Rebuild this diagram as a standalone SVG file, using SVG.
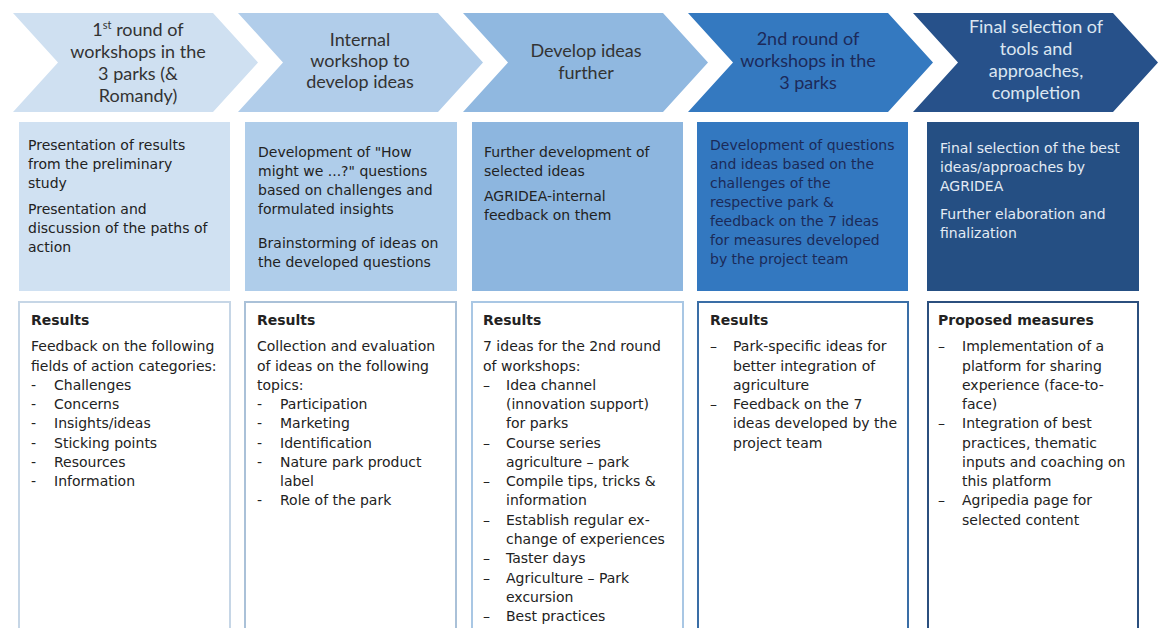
<svg xmlns="http://www.w3.org/2000/svg" width="1160" height="628" viewBox="0 0 1160 628">
<style>
.hd{font-family:Lato,"Open Sans",sans-serif;font-size:18px;text-anchor:middle;fill:#333}
.hd4{fill:#1c2a5a}
.hd5{fill:#dbe6f1}
.bd{font-family:"DejaVu Sans",Verdana,sans-serif;font-size:14px;fill:#222}
.bd4{fill:#1b2a58}
.bd5{fill:#e3ebf4}
.b{font-weight:bold}
.res{fill:#fff;stroke-width:2}
</style>
<rect width="1160" height="628" fill="#fff"/>
<g id="connectors"/>
<!-- chevrons -->
<g id="step1">
<path d="M13,13 H213 L258,62.5 L213,112 H13 L58,62.5 Z" fill="#cfe0f1"/>
<text class="hd" x="138" y="36">1<tspan font-size="11" dy="-7">st</tspan><tspan dy="7"> round of</tspan></text>
<text class="hd" x="138" y="58">workshops in the</text>
<text class="hd" x="138" y="80">3 parks (&amp;</text>
<text class="hd" x="138" y="102">Romandy)</text>
</g>
<g id="step2">
<path d="M238,13 H438 L483,62.5 L438,112 H238 L283,62.5 Z" fill="#b1cdea"/>
<text class="hd" x="360" y="46">Internal</text>
<text class="hd" x="360" y="67">workshop to</text>
<text class="hd" x="360" y="88">develop ideas</text>
</g>
<g id="step3">
<path d="M463,13 H663 L708,62.5 L663,112 H463 L508,62.5 Z" fill="#90b8e0"/>
<text class="hd" x="586" y="57">Develop ideas</text>
<text class="hd" x="586" y="79">further</text>
</g>
<g id="step4">
<path d="M688,13 H888 L933,62.5 L888,112 H688 L733,62.5 Z" fill="#3479c0"/>
<text class="hd hd4" x="808" y="45">2nd round of</text>
<text class="hd hd4" x="808" y="67">workshops in the</text>
<text class="hd hd4" x="808" y="89">3 parks</text>
</g>
<g id="step5">
<path d="M913,13 H1113 L1158,62.5 L1113,112 H913 L958,62.5 Z" fill="#27518a"/>
<text class="hd hd5" x="1036" y="33">Final selection of</text>
<text class="hd hd5" x="1036" y="55">tools and</text>
<text class="hd hd5" x="1036" y="77">approaches,</text>
<text class="hd hd5" x="1036" y="99">completion</text>
</g>
<!-- activity boxes -->
<g id="activity1">
<rect x="19" y="122" width="211" height="169" fill="#d0e1f2"/>
<text class="bd" x="28" y="150">Presentation of results</text>
<text class="bd" x="28" y="169">from the preliminary</text>
<text class="bd" x="28" y="188">study</text>
<text class="bd" x="28" y="214">Presentation and</text>
<text class="bd" x="28" y="233">discussion of the paths of</text>
<text class="bd" x="28" y="252">action</text>
</g>
<g id="activity2">
<rect x="245" y="122" width="212" height="169" fill="#afcdea"/>
<text class="bd" x="258" y="157">Development of "How</text>
<text class="bd" x="258" y="176">might we ...?" questions</text>
<text class="bd" x="258" y="195">based on challenges and</text>
<text class="bd" x="258" y="214">formulated insights</text>
<text class="bd" x="258" y="248">Brainstorming of ideas on</text>
<text class="bd" x="258" y="267">the developed questions</text>
</g>
<g id="activity3">
<rect x="472" y="122" width="211" height="169" fill="#8db6df"/>
<text class="bd" x="484" y="157">Further development of</text>
<text class="bd" x="484" y="176">selected ideas</text>
<text class="bd" x="484" y="201">AGRIDEA-internal</text>
<text class="bd" x="484" y="220">feedback on them</text>
</g>
<g id="activity4">
<rect x="697" y="122" width="211" height="169" fill="#3378c0"/>
<text class="bd bd4" x="710" y="150">Development of questions</text>
<text class="bd bd4" x="710" y="169">and ideas based on the</text>
<text class="bd bd4" x="710" y="188">challenges of the</text>
<text class="bd bd4" x="710" y="207">respective park &amp;</text>
<text class="bd bd4" x="710" y="226">feedback on the 7 ideas</text>
<text class="bd bd4" x="710" y="245">for measures developed</text>
<text class="bd bd4" x="710" y="264">by the project team</text>
</g>
<g id="activity5">
<rect x="927" y="122" width="212" height="169" fill="#254f83"/>
<text class="bd bd5" x="940" y="153">Final selection of the best</text>
<text class="bd bd5" x="940" y="172">ideas/approaches by</text>
<text class="bd bd5" x="940" y="191">AGRIDEA</text>
<text class="bd bd5" x="940" y="219">Further elaboration and</text>
<text class="bd bd5" x="940" y="238">finalization</text>
</g>
<!-- results boxes -->
<g id="results1">
<rect class="res" x="19" y="302" width="211" height="340" stroke="#c6d6e6"/>
<text class="bd b" x="31" y="325">Results</text>
<text class="bd" x="31" y="351">Feedback on the following</text>
<text class="bd" x="31" y="371">fields of action categories:</text>
<text class="bd" x="31" y="390">-</text><text class="bd" x="54" y="390">Challenges</text>
<text class="bd" x="31" y="409">-</text><text class="bd" x="54" y="409">Concerns</text>
<text class="bd" x="31" y="428">-</text><text class="bd" x="54" y="428">Insights/ideas</text>
<text class="bd" x="31" y="448">-</text><text class="bd" x="54" y="448">Sticking points</text>
<text class="bd" x="31" y="467">-</text><text class="bd" x="54" y="467">Resources</text>
<text class="bd" x="31" y="486">-</text><text class="bd" x="54" y="486">Information</text>
</g>
<g id="results2">
<rect class="res" x="245" y="302" width="211" height="340" stroke="#aac1d8"/>
<text class="bd b" x="257" y="325">Results</text>
<text class="bd" x="257" y="351">Collection and evaluation</text>
<text class="bd" x="257" y="371">of ideas on the following</text>
<text class="bd" x="257" y="390">topics:</text>
<text class="bd" x="257" y="409">-</text><text class="bd" x="280" y="409">Participation</text>
<text class="bd" x="257" y="428">-</text><text class="bd" x="280" y="428">Marketing</text>
<text class="bd" x="257" y="448">-</text><text class="bd" x="280" y="448">Identification</text>
<text class="bd" x="257" y="467">-</text><text class="bd" x="280" y="467">Nature park product</text>
<text class="bd" x="280" y="486">label</text>
<text class="bd" x="257" y="505">-</text><text class="bd" x="280" y="505">Role of the park</text>
</g>
<g id="results3">
<rect class="res" x="472" y="302" width="211" height="340" stroke="#a9c7e4"/>
<text class="bd b" x="483" y="325">Results</text>
<text class="bd" x="483" y="351">7 ideas for the 2nd round</text>
<text class="bd" x="483" y="371">of workshops:</text>
<text class="bd" x="483" y="390">–</text><text class="bd" x="506" y="390">Idea channel</text>
<text class="bd" x="506" y="409">(innovation support)</text>
<text class="bd" x="506" y="428">for parks</text>
<text class="bd" x="483" y="448">–</text><text class="bd" x="506" y="448">Course series</text>
<text class="bd" x="506" y="467">agriculture – park</text>
<text class="bd" x="483" y="486">–</text><text class="bd" x="506" y="486">Compile tips, tricks &amp;</text>
<text class="bd" x="506" y="505">information</text>
<text class="bd" x="483" y="525">–</text><text class="bd" x="506" y="525">Establish regular ex-</text>
<text class="bd" x="506" y="544">change of experiences</text>
<text class="bd" x="483" y="563">–</text><text class="bd" x="506" y="563">Taster days</text>
<text class="bd" x="483" y="583">–</text><text class="bd" x="506" y="583">Agriculture – Park</text>
<text class="bd" x="506" y="602">excursion</text>
<text class="bd" x="483" y="621">–</text><text class="bd" x="506" y="621">Best practices</text>
</g>
<g id="results4">
<rect class="res" x="698" y="302" width="210" height="340" stroke="#3a6ea6"/>
<text class="bd b" x="710" y="325">Results</text>
<text class="bd" x="710" y="351">–</text><text class="bd" x="733" y="351">Park-specific ideas for</text>
<text class="bd" x="733" y="371">better integration of</text>
<text class="bd" x="733" y="390">agriculture</text>
<text class="bd" x="710" y="409">–</text><text class="bd" x="733" y="409">Feedback on the 7</text>
<text class="bd" x="733" y="428">ideas developed by the</text>
<text class="bd" x="733" y="448">project team</text>
</g>
<g id="results5">
<rect class="res" x="928" y="302" width="210" height="340" stroke="#2b4f7e"/>
<text class="bd b" x="938" y="325">Proposed measures</text>
<text class="bd" x="938" y="351">–</text><text class="bd" x="962" y="351">Implementation of a</text>
<text class="bd" x="962" y="371">platform for sharing</text>
<text class="bd" x="962" y="390">experience (face-to-</text>
<text class="bd" x="962" y="409">face)</text>
<text class="bd" x="938" y="428">–</text><text class="bd" x="962" y="428">Integration of best</text>
<text class="bd" x="962" y="448">practices, thematic</text>
<text class="bd" x="962" y="467">inputs and coaching on</text>
<text class="bd" x="962" y="486">this platform</text>
<text class="bd" x="938" y="505">–</text><text class="bd" x="962" y="505">Agripedia page for</text>
<text class="bd" x="962" y="525">selected content</text>
</g>
</svg>
